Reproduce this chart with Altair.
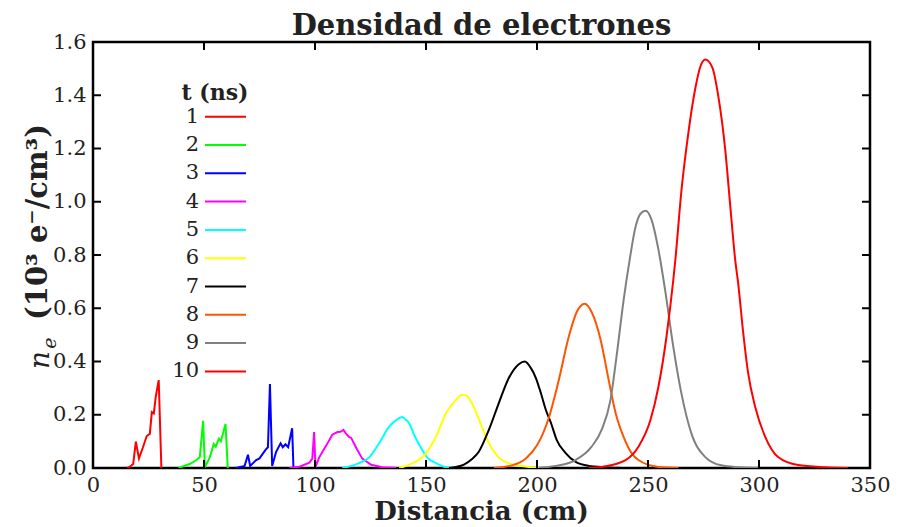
import altair as alt
import pandas as pd

FONT = "DejaVu Serif"
TXT = "#222222"

t_labels = ["1", "2", "3", "4", "5", "6", "7", "8", "9", "10"]
colors = ["#ff0000", "#00ff00", "#0000ff", "#ff00ff", "#00ffff",
          "#ffff00", "#000000", "#ff5500", "#808080", "#ff0000"]

x1 = [15.5, 16.6, 18.1, 19.3, 20.7, 22.4, 24.2, 25.6, 26.5, 27.4, 28.3, 29.6, 30.8]
y1 = [0.0, 0.005, 0.015, 0.099, 0.036, 0.075, 0.12, 0.128, 0.21, 0.205, 0.27, 0.33, 0.0]

x2 = [38.5, 39.1, 43.6, 46.6, 48.1, 49.6, 50.4, 52.6, 54.4, 55.3, 56.7, 57.6, 59.7, 60.7]
y2 = [0.0, 0.002, 0.015, 0.03, 0.04, 0.177, 0.003, 0.04, 0.09, 0.08, 0.11, 0.1, 0.165, 0.0]

x3 = [64.0, 65.3, 68.3, 69.8, 70.8, 73.5, 75.0, 77.7, 78.8, 79.7, 80.7, 82.5, 84.5, 85.5, 86.7, 87.9, 89.7, 90.3]
y3 = [0.0, 0.002, 0.008, 0.05, 0.008, 0.03, 0.036, 0.068, 0.078, 0.315, 0.008, 0.061, 0.093, 0.078, 0.089, 0.078, 0.149, 0.0]

x4 = [88.5, 93.0, 97.5, 98.8, 99.6, 100.2, 101.9, 105.1, 107.8, 110.1, 111.5, 112.8, 113.9, 115.3, 116.3, 118.6, 121.3, 125.3, 130.3, 136.6]
y4 = [0.0, 0.005, 0.02, 0.035, 0.135, 0.003, 0.04, 0.085, 0.125, 0.135, 0.136, 0.143, 0.13, 0.117, 0.113, 0.075, 0.035, 0.012, 0.003, 0.0]

x5 = [112.3, 119.9, 124.4, 128.9, 133.4, 137.9, 139.3, 141.1, 142.4, 144.7, 147.8, 150.5, 154.5, 159.0, 163.5]
y5 = [0.0, 0.018, 0.04, 0.093, 0.155, 0.187, 0.192, 0.18, 0.168, 0.124, 0.075, 0.04, 0.018, 0.003, 0.0]

x6 = [137.9, 143.8, 150.0, 154.5, 159.0, 163.5, 166.2, 168.5, 170.7, 173.0, 174.8, 179.2, 182.8, 188.7, 197.7, 203.0]
y6 = [0.0, 0.017, 0.055, 0.118, 0.206, 0.256, 0.275, 0.27, 0.243, 0.2, 0.162, 0.08, 0.04, 0.014, 0.003, 0.0]

x7 = [160.4, 163.5, 167.1, 170.6, 173.7, 178.3, 182.8, 187.3, 191.8, 194.5, 197.2, 199.5, 201.8, 204.0, 206.3, 208.9, 212.9, 217.4, 223.3, 230.9, 239.0]
y7 = [0.0, 0.004, 0.013, 0.033, 0.06, 0.143, 0.244, 0.338, 0.39, 0.4, 0.376, 0.338, 0.28, 0.218, 0.169, 0.105, 0.056, 0.023, 0.008, 0.003, 0.0]

x8 = [180.6, 188.7, 195.0, 200.0, 205.3, 209.8, 214.3, 217.9, 221.5, 224.6, 228.7, 232.3, 235.4, 239.0, 242.6, 245.7, 254.7, 263.7]
y8 = [0.0, 0.01, 0.036, 0.085, 0.188, 0.33, 0.493, 0.586, 0.617, 0.586, 0.48, 0.33, 0.207, 0.117, 0.056, 0.03, 0.004, 0.0]

x9 = [200.8, 208.4, 217.4, 224.6, 229.1, 233.1, 235.8, 239.0, 241.7, 244.4, 246.6, 248.9, 251.6, 254.7, 257.9, 261.4, 265.0, 269.5, 275.8, 283.0, 290.6, 299.6]
y9 = [0.0, 0.008, 0.03, 0.08, 0.143, 0.256, 0.417, 0.63, 0.78, 0.906, 0.955, 0.966, 0.932, 0.82, 0.658, 0.455, 0.282, 0.131, 0.041, 0.01, 0.003, 0.0]

x10 = [223.3, 229.1, 239.9, 245.7, 251.1, 254.7, 258.3, 261.4, 262.3, 265.1, 268.2, 271.4, 273.6, 275.8, 279.0, 281.7, 284.8, 287.1, 289.3, 290.6, 292.9, 295.1, 298.3, 302.8, 308.6, 317.6, 329.7, 340.0]
y10 = [0.0, 0.004, 0.03, 0.08, 0.18, 0.305, 0.492, 0.707, 0.78, 1.045, 1.26, 1.43, 1.508, 1.534, 1.504, 1.395, 1.195, 0.98, 0.78, 0.695, 0.507, 0.357, 0.229, 0.117, 0.041, 0.011, 0.003, 0.0]

xs = [x1, x2, x3, x4, x5, x6, x7, x8, x9, x10]
ys = [y1, y2, y3, y4, y5, y6, y7, y8, y9, y10]

x_ticks = [50, 100, 150, 200, 250, 300]
y_ticks = [0.2, 0.4, 0.6, 0.8, 1.0, 1.2, 1.4]
x_labels = [0, 50, 100, 150, 200, 250, 300, 350]
y_labels = [0.0, 0.2, 0.4, 0.6, 0.8, 1.0, 1.2, 1.4, 1.6]

W, H = 777, 426

rows = []
for i, (xx, yy) in enumerate(zip(xs, ys)):
    for k, (a, b) in enumerate(zip(xx, yy)):
        rows.append({"t": t_labels[i], "ord": i, "k": k, "x": a, "y": b,
                     "smooth": i >= 4})
df = pd.DataFrame(rows)

xscale = alt.Scale(domain=[0, 350], nice=False, zero=False)
yscale = alt.Scale(domain=[0, 1.6], nice=False, zero=False)

xaxis = alt.Axis(values=x_labels, format="d", ticks=False, domain=False, grid=False,
                 labelFont=FONT, labelFontSize=21, labelColor=TXT, labelPadding=6,
                 labelFlush=False, labelOverlap=False, title=None)
yaxis = alt.Axis(values=y_labels, format=".1f", ticks=False, domain=False, grid=False,
                 labelFont=FONT, labelFontSize=21, labelColor=TXT, labelPadding=7,
                 labelFlush=False, labelOverlap=False, title=None)

cscale = alt.Scale(domain=t_labels, range=colors)

def line_layer(data, interp):
    return alt.Chart(data).mark_line(strokeWidth=2, clip=True, interpolate=interp).encode(
        x=alt.X("x:Q", scale=xscale, axis=xaxis),
        y=alt.Y("y:Q", scale=yscale, axis=yaxis),
        color=alt.Color("t:N", scale=cscale, legend=None),
        detail="t:N",
        order="k:Q",
    )

spiky = line_layer(df[~df["smooth"]], "linear")
smooth = line_layer(df[df["smooth"]], "monotone")

tick_len = 8
xt = pd.DataFrame({"v": x_ticks})
yt = pd.DataFrame({"v": y_ticks})
tb = alt.Chart(xt).mark_rule(color="black", strokeWidth=2).encode(
    x="v:Q", y=alt.value(H), y2=alt.value(H - tick_len))
tt = alt.Chart(xt).mark_rule(color="black", strokeWidth=2).encode(
    x="v:Q", y=alt.value(0), y2=alt.value(tick_len))
tl = alt.Chart(yt).mark_rule(color="black", strokeWidth=2).encode(
    y="v:Q", x=alt.value(0), x2=alt.value(tick_len))
tr = alt.Chart(yt).mark_rule(color="black", strokeWidth=2).encode(
    y="v:Q", x=alt.value(W), x2=alt.value(W - tick_len))

one = pd.DataFrame({"a": [0]})

title = alt.Chart(one).mark_text(
    text="Densidad de electrones", font=FONT, fontSize=29, fontWeight="bold",
    align="center", baseline="alphabetic", color=TXT).encode(x=alt.value(W / 2), y=alt.value(-7))
xtitle = alt.Chart(one).mark_text(
    text="Distancia (cm)", font=FONT, fontSize=26, fontWeight="bold",
    align="center", baseline="alphabetic", color=TXT).encode(x=alt.value(W / 2), y=alt.value(478))

ytitle_bold = alt.Chart(one).mark_text(
    text="(10³ e⁻/cm³)", font=FONT, fontSize=29, fontWeight="bold", angle=270,
    align="center", baseline="middle", color=TXT).encode(x=alt.value(-55), y=alt.value(180))
ytitle_n = alt.Chart(one).mark_text(
    text="n", font=FONT, fontSize=28, fontStyle="italic", angle=270,
    align="center", baseline="middle", color=TXT).encode(x=alt.value(-52), y=alt.value(318))
ytitle_e = alt.Chart(one).mark_text(
    text="e", font=FONT, fontSize=19, fontStyle="italic", angle=270,
    align="center", baseline="middle", color=TXT).encode(x=alt.value(-43), y=alt.value(301))

# legend
leg_layers = []
leg_layers.append(alt.Chart(one).mark_text(
    text="t (ns)", font=FONT, fontSize=22, fontWeight="bold",
    align="center", baseline="middle", color=TXT).encode(x=alt.value(122), y=alt.value(51)))
for i, (lab, col) in enumerate(zip(t_labels, colors)):
    yy = 74.7 + 28.3 * i
    leg_layers.append(alt.Chart(one).mark_text(
        text=lab, font=FONT, fontSize=21, align="right", baseline="middle", color=TXT
    ).encode(x=alt.value(106), y=alt.value(yy)))
    leg_layers.append(alt.Chart(one).mark_rule(color=col, strokeWidth=2).encode(
        x=alt.value(112), x2=alt.value(153), y=alt.value(yy)))

chart = alt.layer(spiky, smooth, tb, tt, tl, tr, title, xtitle,
                  ytitle_bold, ytitle_n, ytitle_e, *leg_layers).properties(
    width=W, height=H,
    autosize=alt.AutoSizeParams(type="none"),
    padding={"left": 85, "top": 34, "right": 21, "bottom": 59},
    background="white",
).configure_view(stroke="black", strokeWidth=2.5)

chart.save("out.html", embed_options={"renderer": "svg", "actions": False})
